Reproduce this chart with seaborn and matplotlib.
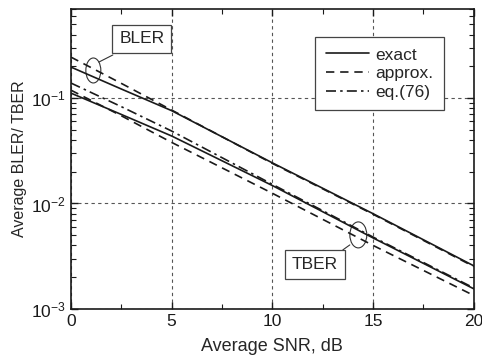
import numpy as np
import pandas as pd
import matplotlib
matplotlib.use('Agg')
import matplotlib.pyplot as plt
import seaborn as sns
from matplotlib.patches import Ellipse
from matplotlib.lines import Line2D

# values
snr_db = [0, 2.5, 5, 10, 15, 20]

bler_exact = [0.197, 0.122, 0.076, 0.0243, 0.0080, 0.00256]
bler_approx = [0.245, 0.138, 0.077, 0.0240, 0.0079, 0.00252]

tber_exact = [0.1115, 0.070, 0.0437, 0.0148, 0.00471, 0.00155]
tber_approx = [0.119, 0.068, 0.0380, 0.0125, 0.00400, 0.00134]
tber_eq76 = [0.139, 0.083, 0.0487, 0.0152, 0.0048, 0.00158]

x_ticks = [0, 5, 10, 15, 20]
y_limits = (1e-3, 0.7)

sns.set_theme(style="ticks")
plt.rcParams['font.family'] = ['Liberation Sans', 'DejaVu Sans']
plt.rcParams['mathtext.fontset'] = 'custom'
plt.rcParams['mathtext.rm'] = 'Liberation Sans'
plt.rcParams['mathtext.it'] = 'Liberation Sans'

fig, ax = plt.subplots(figsize=(4.82, 3.6), dpi=100)
fig.subplots_adjust(left=0.147, right=0.983, top=0.975, bottom=0.142)

dash = (0, (5, 3.5))
dashdot = (0, (6, 2.5, 1.5, 2.5))
lw = 1.2

sns.lineplot(x=snr_db, y=bler_exact, ax=ax, color='k', lw=lw, linestyle='-')
sns.lineplot(x=snr_db, y=bler_approx, ax=ax, color='k', lw=lw, linestyle=dash)
sns.lineplot(x=snr_db, y=tber_exact, ax=ax, color='k', lw=lw, linestyle='-')
sns.lineplot(x=snr_db, y=tber_approx, ax=ax, color='k', lw=lw, linestyle=dash)
sns.lineplot(x=snr_db, y=tber_eq76, ax=ax, color='k', lw=lw, linestyle=dashdot)

ax.set_yscale('log')
ax.set_xlim(0, 20)
ax.set_ylim(*y_limits)
ax.set_xticks(x_ticks)
ax.set_xticks(np.arange(2.5, 20, 5), minor=True)
ax.set_yticks([1e-3, 1e-2, 1e-1])

ax.grid(True, which='major', color='#555555', linestyle=(0, (3, 3)), lw=0.8)
ax.tick_params(which='both', direction='in', top=True, right=True, colors='k', labelsize=12.5)
ax.tick_params(which='major', length=5, width=1)
ax.tick_params(which='minor', length=3.5, width=0.8)
for s in ax.spines.values():
    s.set_color('k')
    s.set_linewidth(1.2)

ax.set_xlabel('Average SNR, dB', fontsize=13, labelpad=7)
ax.set_ylabel('Average BLER/ TBER', fontsize=11.5, labelpad=3)

# legend
handles = [Line2D([], [], color='k', lw=lw, linestyle='-'),
           Line2D([], [], color='k', lw=lw, linestyle=dash),
           Line2D([], [], color='k', lw=lw, linestyle=dashdot)]
leg = ax.legend(handles, ['exact', 'approx.', 'eq.(76)'], loc='upper right',
                bbox_to_anchor=(0.9256, 0.9067), borderaxespad=0, fontsize=12.5,
                fancybox=False, framealpha=1, edgecolor='#444444',
                handlelength=2.5, handletextpad=0.35, labelspacing=0.2,
                borderpad=0.6)
leg.get_frame().set_linewidth(0.9)

# BLER / TBER callouts
box = dict(boxstyle='square,pad=0.4', fc='white', ec='#444444', lw=0.9)
ax.text(0.176, 0.9, 'BLER', transform=ax.transAxes, ha='center', va='center',
        fontsize=12.5, bbox=box, zorder=5)
ax.text(0.605, 0.147, 'TBER', transform=ax.transAxes, ha='center', va='center',
        fontsize=12.5, bbox=box, zorder=5)
ax.add_patch(Ellipse((0.0558, 0.795), 0.0372, 0.0833, transform=ax.transAxes,
                     fill=False, ec='#333333', lw=0.8))
ax.add_patch(Ellipse((0.7134, 0.2467), 0.042, 0.0867, transform=ax.transAxes,
                     fill=False, ec='#333333', lw=0.8))
ax.plot([0.0695, 0.1042], [0.823, 0.8467], transform=ax.transAxes, color='#333333', lw=0.8)
ax.plot([0.6923, 0.675], [0.2133, 0.1967], transform=ax.transAxes, color='#333333', lw=0.8)

plt.savefig('out.png', dpi=100)
